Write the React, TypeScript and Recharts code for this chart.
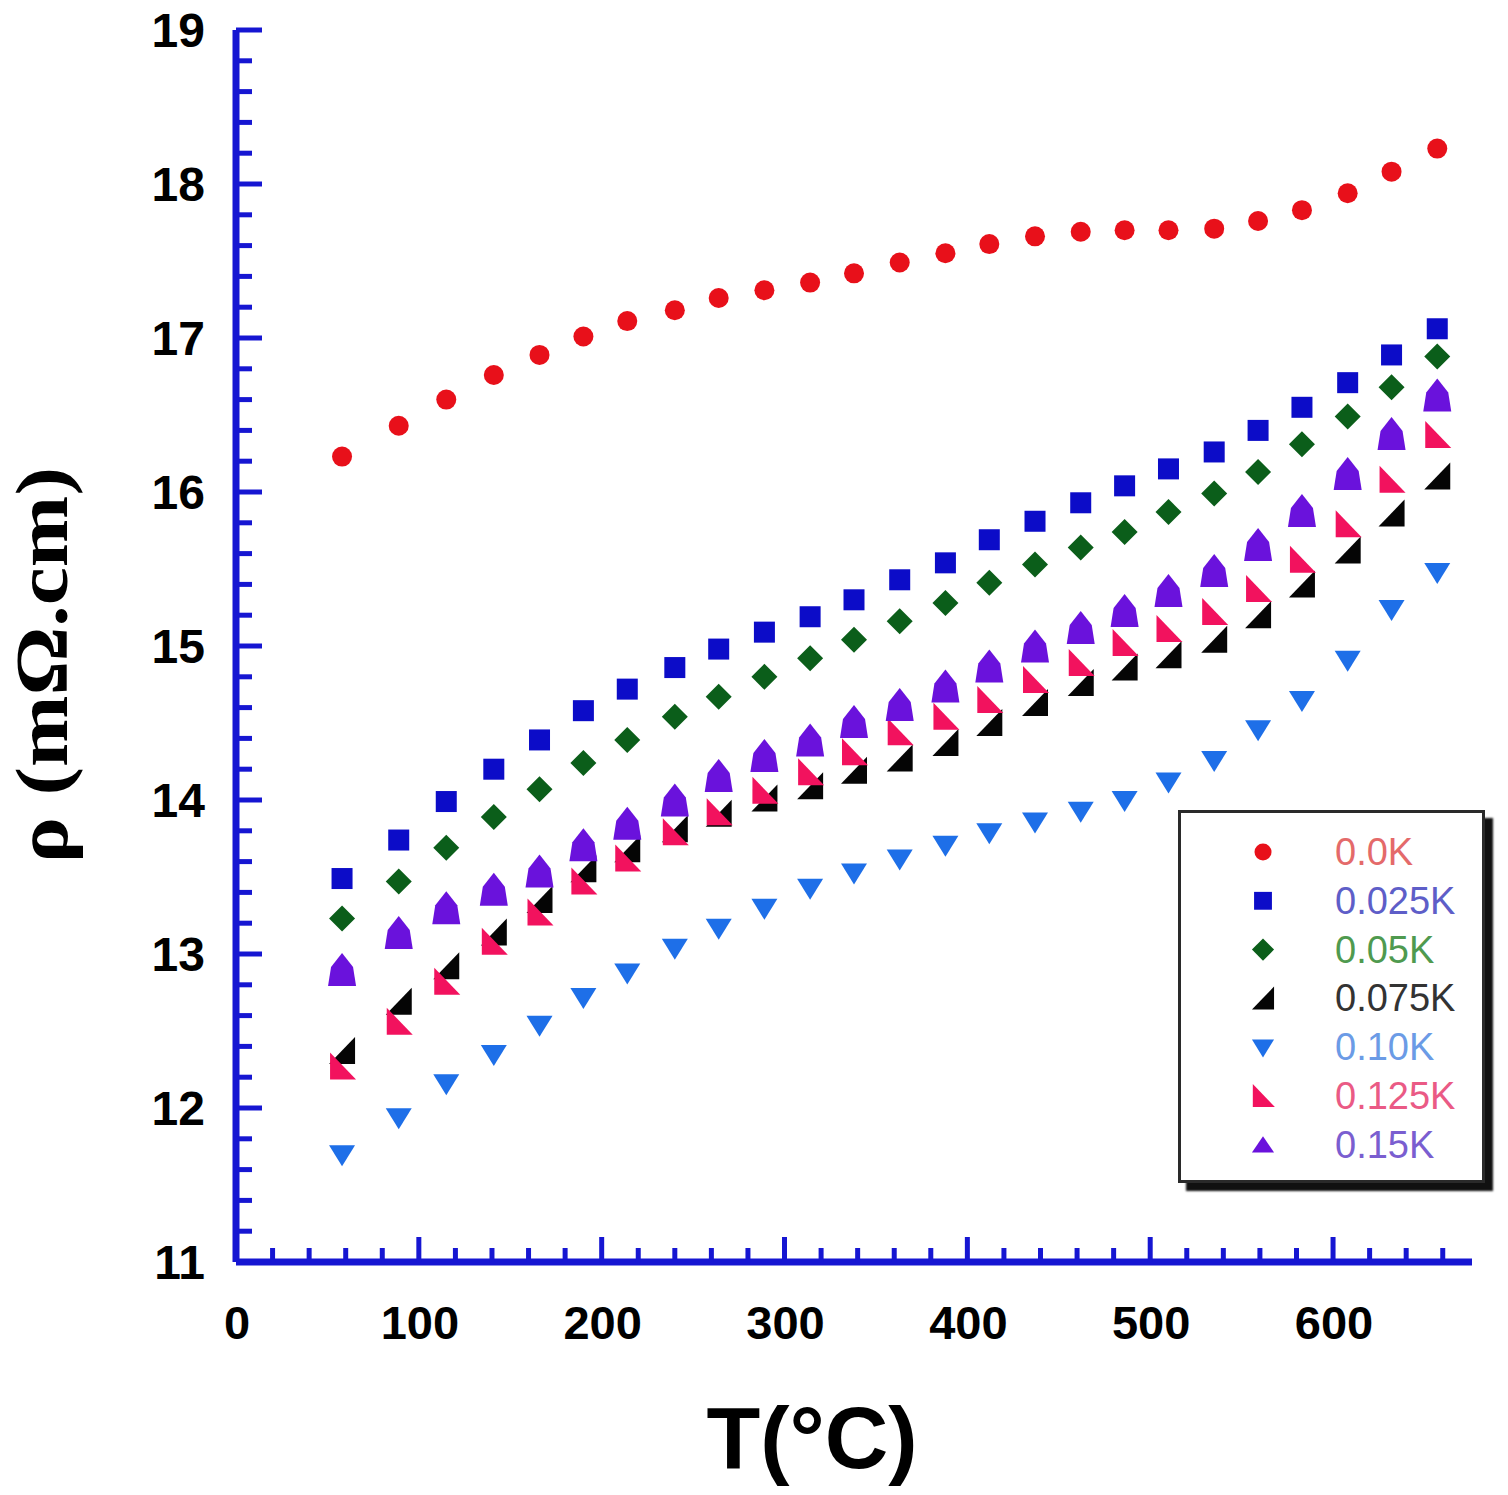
import React from 'react';
import { ScatterChart, Scatter, XAxis, YAxis, Legend } from 'recharts';

// ---------- data ----------
const T_C = [58, 89, 115, 141, 166, 190, 214, 240, 264, 289, 314, 338, 363, 388, 412, 437, 462, 486, 510, 535, 559, 583, 608, 632, 657];

const RHO_0_0K = [16.23, 16.43, 16.60, 16.76, 16.89, 17.01, 17.11, 17.18, 17.26, 17.31, 17.36, 17.42, 17.49, 17.55, 17.61, 17.66, 17.69, 17.70, 17.70, 17.71, 17.76, 17.83, 17.94, 18.08, 18.23];
const RHO_0_025K = [13.49, 13.74, 13.99, 14.20, 14.39, 14.58, 14.72, 14.86, 14.98, 15.09, 15.19, 15.30, 15.43, 15.54, 15.69, 15.81, 15.93, 16.04, 16.15, 16.26, 16.40, 16.55, 16.71, 16.89, 17.06];
const RHO_0_05K = [13.23, 13.47, 13.69, 13.89, 14.07, 14.24, 14.39, 14.54, 14.67, 14.80, 14.92, 15.04, 15.16, 15.28, 15.41, 15.53, 15.64, 15.74, 15.87, 15.99, 16.13, 16.31, 16.49, 16.68, 16.88];
const RHO_0_075K = [12.37, 12.69, 12.92, 13.14, 13.35, 13.55, 13.68, 13.81, 13.91, 14.01, 14.09, 14.19, 14.27, 14.37, 14.50, 14.63, 14.76, 14.86, 14.94, 15.04, 15.20, 15.40, 15.62, 15.86, 16.10];
const RHO_0_10K = [11.70, 11.94, 12.16, 12.35, 12.54, 12.72, 12.88, 13.04, 13.17, 13.30, 13.43, 13.53, 13.62, 13.71, 13.79, 13.86, 13.93, 14.00, 14.12, 14.26, 14.46, 14.65, 14.91, 15.24, 15.48];
const RHO_0_125K = [12.27, 12.56, 12.82, 13.08, 13.27, 13.47, 13.62, 13.79, 13.92, 14.06, 14.18, 14.31, 14.44, 14.54, 14.65, 14.78, 14.89, 15.02, 15.11, 15.22, 15.37, 15.56, 15.79, 16.08, 16.37];
const RHO_0_15K = [12.89, 13.13, 13.29, 13.41, 13.53, 13.70, 13.84, 13.99, 14.15, 14.28, 14.38, 14.50, 14.61, 14.73, 14.86, 14.99, 15.11, 15.22, 15.35, 15.48, 15.65, 15.87, 16.11, 16.37, 16.62];

const SERIES_NAMES = ['0.0K', '0.025K', '0.05K', '0.075K', '0.10K', '0.125K', '0.15K'];

const X_MAJOR_TICKS = [0, 100, 200, 300, 400, 500, 600];
const Y_MAJOR_TICKS = [11, 12, 13, 14, 15, 16, 17, 18, 19];

// ---------- styles ----------
const AXIS_BLUE = '#1616d2';
const MARKER_COLORS = ['#e8101a', '#0c0cc8', '#0b5e1a', '#050505', '#1e6fe8', '#f2125e', '#6a12dc'];
const LABEL_COLORS = ['#e46a6a', '#5e5ec8', '#4f9a4f', '#333333', '#6b9be6', '#ea5a85', '#7a5ed0'];
const SHAPES = ['circle', 'square', 'diamond', 'rtriBR', 'triDown', 'rtriBL', 'house'];

const SANS = '"Liberation Sans", Arial, Helvetica, sans-serif';
const SERIF = '"Liberation Serif", "Times New Roman", serif';

const X_MINOR = 20;
const Y_MINOR = 0.2;
const xTicks: number[] = [];
for (let v = X_MAJOR_TICKS[0]; v <= 660; v += X_MINOR) xTicks.push(v);
const yTicks: number[] = [];
for (let k = 0; k <= 40; k++) yTicks.push(Math.round((Y_MAJOR_TICKS[0] + k * Y_MINOR) * 10) / 10);

const SERIES = SERIES_NAMES.map((name, i) => {
  const vals = [RHO_0_0K, RHO_0_025K, RHO_0_05K, RHO_0_075K, RHO_0_10K, RHO_0_125K, RHO_0_15K][i];
  return {
    name,
    color: MARKER_COLORS[i],
    labelColor: LABEL_COLORS[i],
    shape: SHAPES[i],
    data: T_C.map((t, j) => ({ t, rho: vals[j] })),
  };
});

function drawMarker(kind: string, cx: number, cy: number, color: string, s = 1) {
  const p = (pts: number[][]) => pts.map(([a, b]) => `${cx + a * s},${cy + b * s}`).join(' ');
  switch (kind) {
    case 'circle':
      return <circle cx={cx} cy={cy} r={10 * s} fill={color} />;
    case 'square':
      return <rect x={cx - 10.5 * s} y={cy - 10.5 * s} width={21 * s} height={21 * s} fill={color} />;
    case 'diamond':
      return <polygon points={p([[0, -13], [13, 0], [0, 13], [-13, 0]])} fill={color} />;
    case 'rtriBR':
      return <polygon points={p([[-13, 13], [13, 13], [13, -14]])} fill={color} />;
    case 'rtriBL':
      return <polygon points={p([[-12, -14], [-12, 13], [14, 13]])} fill={color} />;
    case 'triDown':
      return <polygon points={p([[-13, -9], [13, -9], [0, 12]])} fill={color} />;
    case 'triUp':
      return <polygon points={p([[0, -10], [13, 9], [-13, 9]])} fill={color} />;
    case 'house':
      return <polygon points={p([[0, -18], [11, -4], [14, 15], [-14, 15], [-11, -4]])} fill={color} />;
    default:
      return null;
  }
}

const makeShape = (kind: string, color: string) => (props: any) => {
  const { cx, cy } = props;
  if (cx == null || cy == null) return <g />;
  return <g>{drawMarker(kind, cx, cy, color)}</g>;
};

const XTick = (props: any) => {
  const { x, y, payload } = props;
  const v = payload.value;
  const major = X_MAJOR_TICKS.includes(v);
  return (
    <g>
      <line x1={x} x2={x} y1={y} y2={y - (major ? 25 : 14)} stroke={AXIS_BLUE} strokeWidth={5} />
      {major && (
        <text x={x + 1} y={y + 77} textAnchor="middle" fontFamily={SANS} fontWeight="bold" fontSize={47} fill="#000">
          {v}
        </text>
      )}
    </g>
  );
};

const YTick = (props: any) => {
  const { x, y, payload } = props;
  const v = payload.value;
  const major = Math.abs(v - Math.round(v)) < 1e-6;
  return (
    <g>
      <line x1={x} x2={x + (major ? 26 : 16)} y1={y} y2={y} stroke={AXIS_BLUE} strokeWidth={5} />
      {major && (
        <text x={x - 31} y={y + 17} textAnchor="end" fontFamily={SANS} fontWeight="bold" fontSize={48} fill="#000">
          {Math.round(v)}
        </text>
      )}
    </g>
  );
};

const XTitle = () => (
  <text x={812} y={1468} textAnchor="middle" fontFamily={SANS} fontWeight="bold" fontSize={88} fill="#000">
    T(°C)
  </text>
);

const YTitle = () => (
  <text
    transform="translate(67, 665) rotate(-90)"
    x={0}
    y={0}
    textAnchor="middle"
    fontFamily={SERIF}
    fontWeight="bold"
    fontSize={74}
    textLength={396}
    lengthAdjust="spacingAndGlyphs"
    fill="#000"
  >
    ρ (mΩ.cm)
  </text>
);

const LegendBox = () => (
  <div
    style={{
      width: 307,
      height: 373,
      boxSizing: 'border-box',
      border: '3px solid #2a2a2a',
      background: '#fff',
      boxShadow: '8px 8px 2px #111',
    }}
  >
    <svg width={301} height={367} style={{ display: 'block' }}>
      {SERIES.map((s, i) => {
        const cy = 39 + i * 48.8;
        const legendKind = s.shape === 'house' ? 'triUp' : s.shape;
        return (
          <g key={s.name}>
            {drawMarker(legendKind, 82, cy, s.color, 0.85)}
            <text x={154} y={cy} dominantBaseline="central" fontFamily={SANS} fontSize={38} fill={s.labelColor}>
              {s.name}
            </text>
          </g>
        );
      })}
    </svg>
  </div>
);

export default function App() {
  return (
    <div style={{ position: 'absolute', left: 0, top: 0, width: 1508, height: 1495, background: '#fff' }}>
      <ScatterChart width={1508} height={1495} margin={{ top: 30, right: 36, bottom: 203, left: 176 }}>
        <XAxis
          type="number"
          dataKey="t"
          domain={[0, 676]}
          ticks={xTicks}
          interval={0}
          height={30}
          tickSize={0}
          tickMargin={0}
          tickLine={false}
          tick={<XTick />}
          axisLine={{ stroke: AXIS_BLUE, strokeWidth: 7 }}
          allowDataOverflow
          label={<XTitle />}
        />
        <YAxis
          type="number"
          dataKey="rho"
          domain={[11, 19]}
          ticks={yTicks}
          interval={0}
          width={60}
          tickSize={0}
          tickMargin={0}
          tickLine={false}
          tick={<YTick />}
          axisLine={{ stroke: AXIS_BLUE, strokeWidth: 7 }}
          allowDataOverflow
          label={<YTitle />}
        />
        <Legend
          layout="vertical"
          align="center"
          verticalAlign="middle"
          content={() => <LegendBox />}
          wrapperStyle={{ position: 'absolute', left: 1178, top: 810, width: 307, height: 373 }}
        />
        {SERIES.map((s) => (
          <Scatter
            key={s.name}
            name={s.name}
            data={s.data}
            fill={s.color}
            shape={makeShape(s.shape, s.color)}
            isAnimationActive={false}
          />
        ))}
      </ScatterChart>
    </div>
  );
}
